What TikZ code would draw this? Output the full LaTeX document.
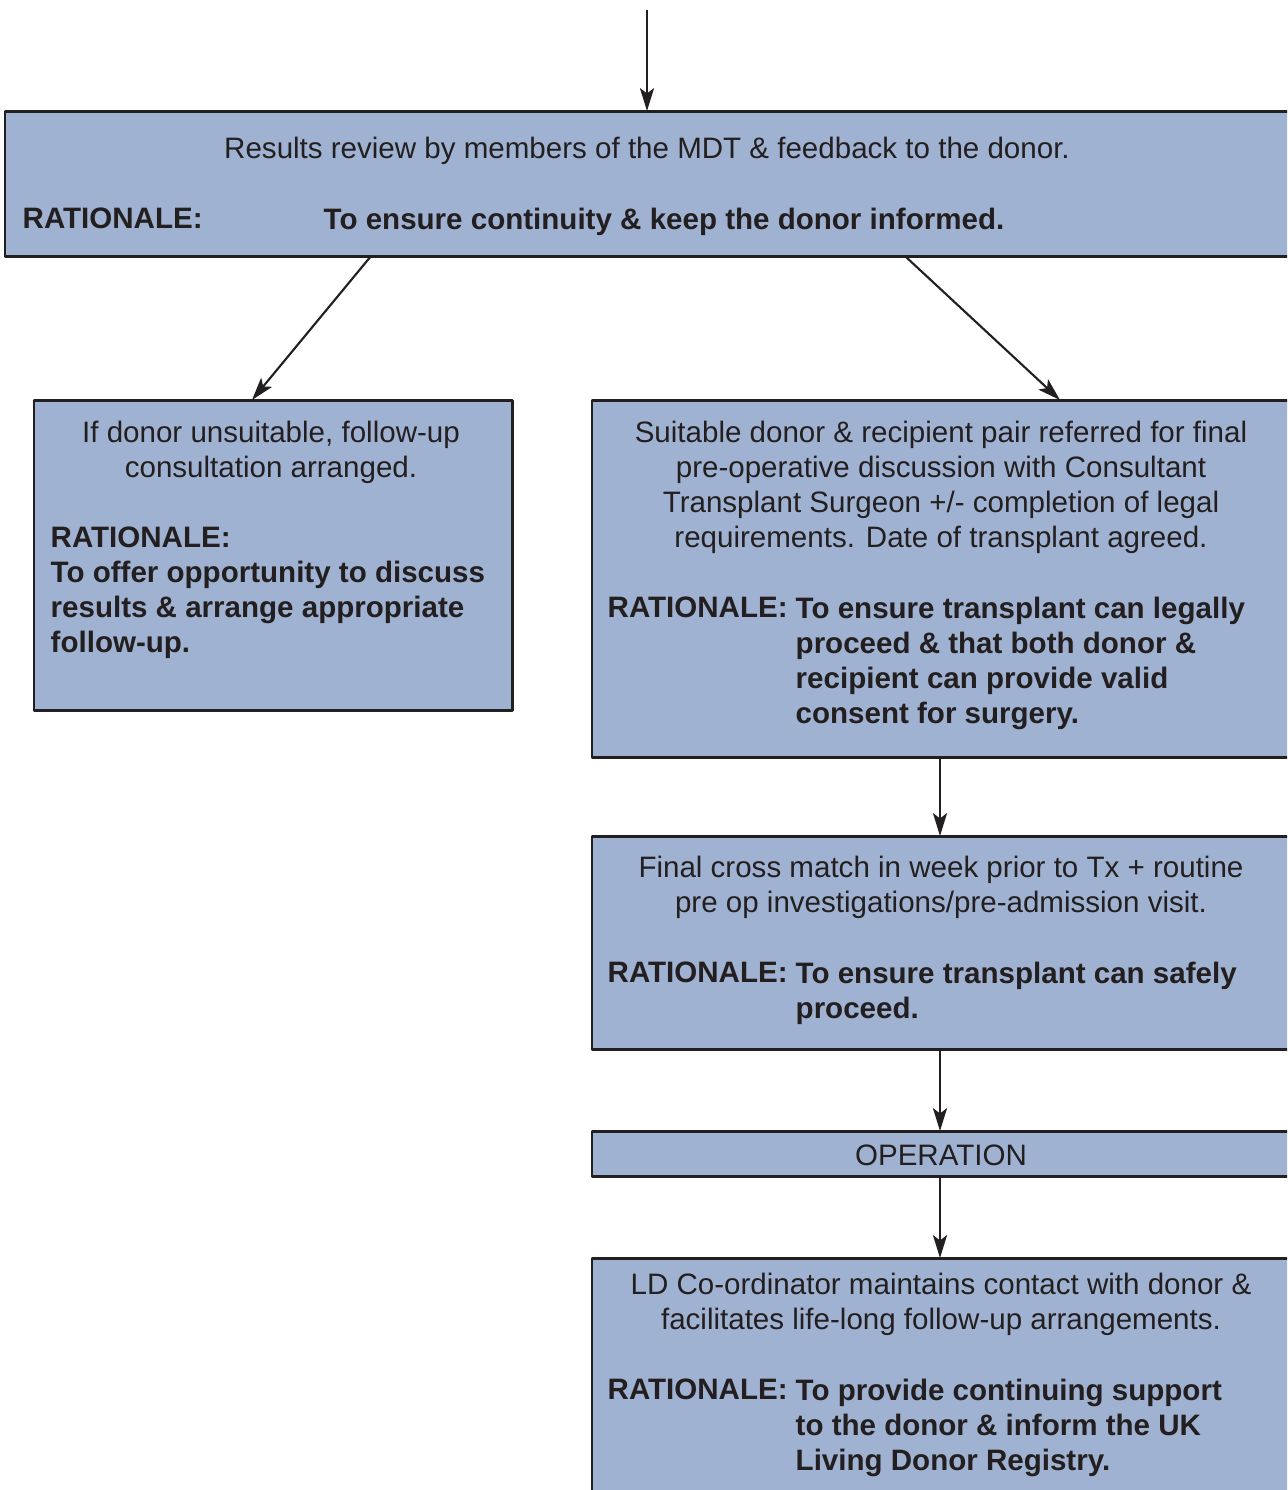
\documentclass[tikz,border=0pt]{standalone}
\usepackage{fontspec}
\setmainfont{Liberation Sans}
\usetikzlibrary{arrows.meta}
\definecolor{boxblue}{RGB}{160,178,209}
\definecolor{edge}{RGB}{35,31,32}
\begin{document}
\begin{tikzpicture}[x=0.01cm,y=-0.01cm,font=\fontsize{8.4}{10}\selectfont,line join=round,
 >={Stealth[length=6.5pt,width=4pt,inset=1.5pt]},
 box/.style={draw=edge,fill=boxblue,line width=0.85pt,anchor=north west,inner sep=0pt,outer sep=0pt},
 txt/.style={inner sep=0pt,anchor=north,align=center,text=edge},
 bold/.style={inner sep=0pt,anchor=north west,align=left,text=edge,font=\fontsize{8.4}{10}\selectfont\bfseries},
 link/.style={->,draw=edge,line width=0.6pt}]
 \useasboundingbox (0,0) rectangle (1287,1490);
 \clip (0,0) rectangle (1287,1490);
 \node[box,minimum width=12.9cm,minimum height=1.45cm] (results) at (5,111) {};
 \node[box,minimum width=4.78cm,minimum height=3.1cm] (unsuitable) at (34,400) {};
 \node[box,minimum width=7cm,minimum height=3.57cm] (suitable) at (592,400) {};
 \node[box,minimum width=7cm,minimum height=2.13cm] (crossmatch) at (592,836) {};
 \node[box,minimum width=7cm,minimum height=0.45cm] (operation) at (592,1131) {};
 \node[box,minimum width=7cm,minimum height=2.6cm] (followup) at (592,1258) {};
 \coordinate (start) at (647,10);
 \draw[link] (start) -- (start |- results.north);
 \draw[link] (results.south -| 371,0) -- (unsuitable.north -| 252,0);
 \draw[link] (results.south -| 905,0) -- (suitable.north -| 1060,0);
 \draw[link] (suitable.south -| 940,0) -- (crossmatch.north -| 940,0);
 \draw[link] (crossmatch.south -| 940,0) -- (operation.north -| 940,0);
 \draw[link] (operation.south -| 940,0) -- (followup.north -| 940,0);
 \node[txt] (resultsT) at (647,136) {Results review by members of the MDT \& feedback to the donor.};
 \node[bold] (resultsR) at (22,207) {RATIONALE:};
 \node[bold] (resultsB) at (323,207) {To ensure continuity \& keep the donor informed.};
 \node[txt] (unsuitableT) at (271,420) {If donor unsuitable, follow-up\\consultation arranged.};
 \node[bold] (unsuitableB) at (50,526) {RATIONALE:\\To offer opportunity to discuss\\results \& arrange appropriate\\follow-up.};
 \node[txt] (suitableT) at (941,420) {Suitable donor \& recipient pair referred for final\\pre-operative discussion with Consultant\\Transplant Surgeon +/- completion of legal\\requirements. Date of transplant agreed.};
 \node[bold] (suitableR) at (607,596) {RATIONALE:};
 \node[bold] (suitableB) at (795,596) {To ensure transplant can legally\\proceed \& that both donor \&\\recipient can provide valid\\consent for surgery.};
 \node[txt] (crossmatchT) at (941,855) {Final cross match in week prior to Tx + routine\\pre op investigations/pre-admission visit.};
 \node[bold] (crossmatchR) at (607,961) {RATIONALE:};
 \node[bold] (crossmatchB) at (795,961) {To ensure transplant can safely\\proceed.};
 \node[txt] (operationT) at (941,1144) {OPERATION};
 \node[txt] (followupT) at (941,1272) {LD Co-ordinator maintains contact with donor \&\\facilitates life-long follow-up arrangements.};
 \node[bold] (followupR) at (607,1378) {RATIONALE:};
 \node[bold] (followupB) at (795,1378) {To provide continuing support\\to the donor \& inform the UK\\Living Donor Registry.};
\end{tikzpicture}
\end{document}
